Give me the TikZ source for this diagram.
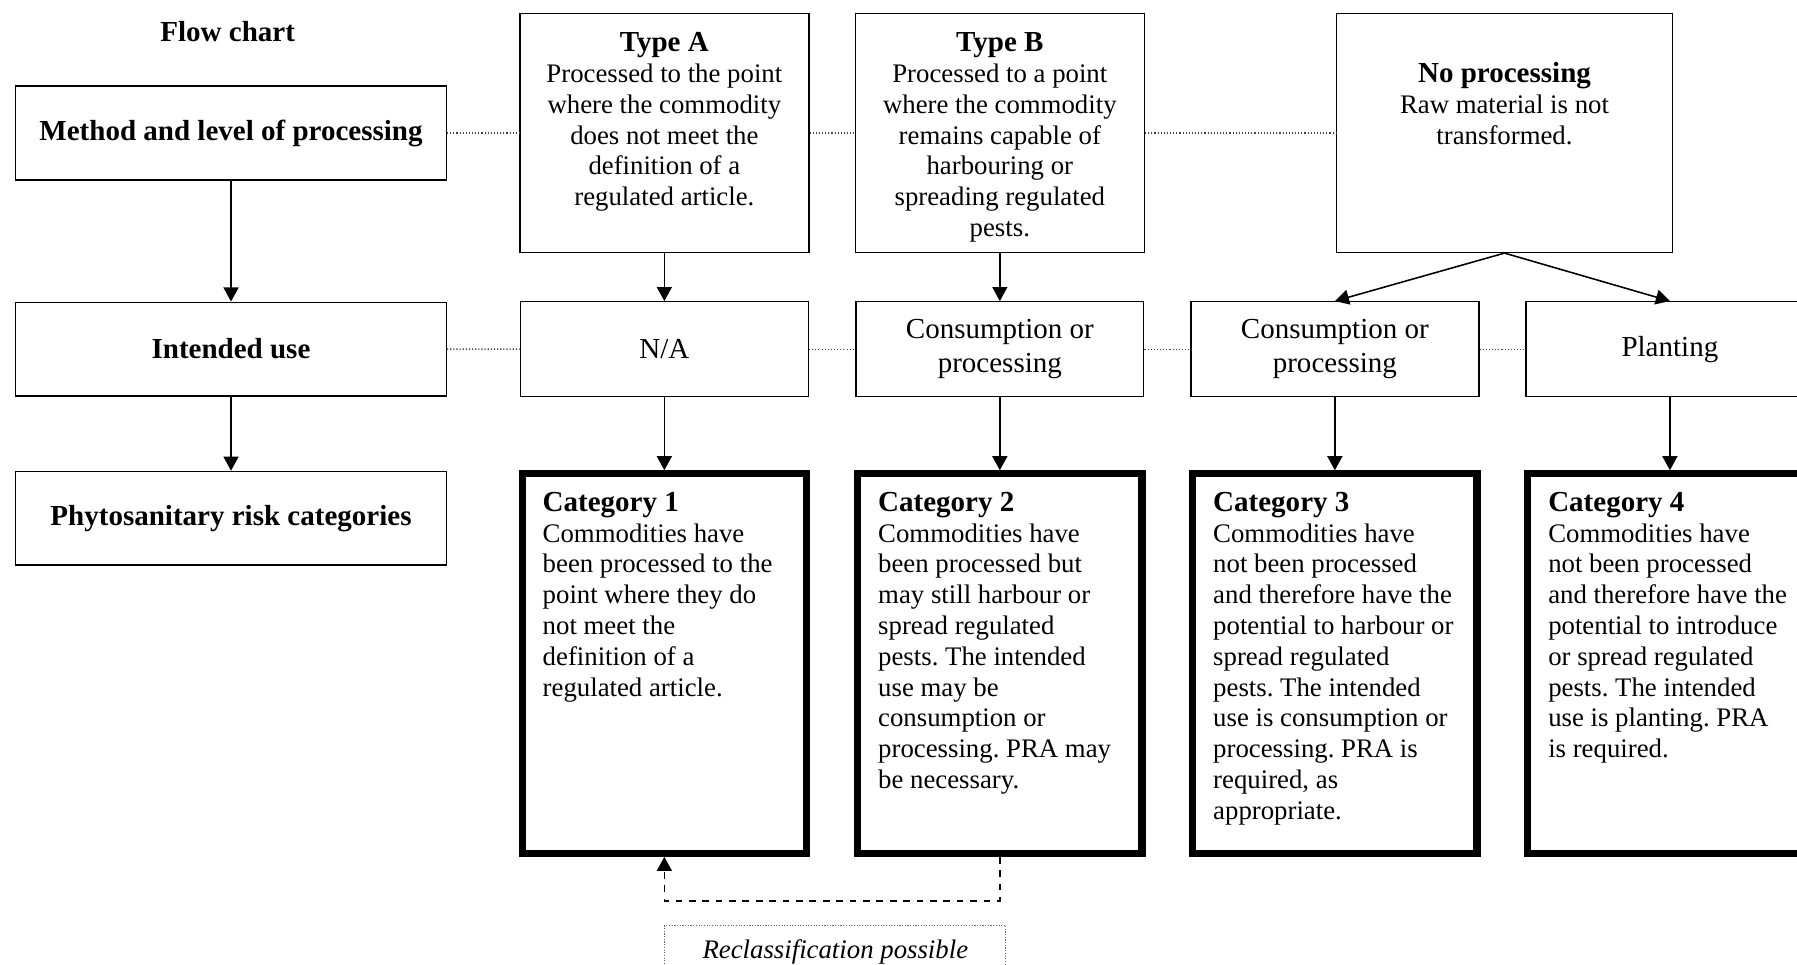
\documentclass[tikz,border=0pt]{standalone}
\usepackage{fontspec}
\setmainfont{Liberation Serif}
\usetikzlibrary{arrows.meta,positioning}
\frenchspacing
\newcommand{\hd}[1]{{\fontsize{13pt}{13.8pt}\selectfont\bfseries\strut #1}}
\tikzset{
  %standard arrow tip
    >={Triangle[length=6.3pt,width=6.7pt]},
  %style for the boxes on the left
  headbox/.style={
    rectangle,
    draw=black, line width=0.6pt,
    minimum width=193pt,
    minimum height=42pt,
    align=center,
    font={\fontsize{13pt}{15.2pt}\selectfont\bfseries}},
  %style for the intended use boxes
  usebox/.style={
    rectangle,
    draw=black, line width=0.6pt,
    minimum width=129pt,
    minimum height=42.5pt,
    align=center,
    font={\fontsize{13pt}{15.2pt}\selectfont}},
  %style for the processing boxes (text at the top)
  typebox/.style={
    rectangle,
    draw=black, line width=0.6pt,
    inner xsep=5pt, inner ysep=7.4pt,
    font={\fontsize{12pt}{13.8pt}\selectfont},
    execute at begin node={\begin{minipage}[t][92.2pt][t]{#1}\centering},
    execute at end node={\end{minipage}}},
  %style for the category boxes
  catbox/.style={
    rectangle,
    draw=black, line width=3.2pt,
    inner xsep=9.2pt, inner ysep=7.1pt,
    font={\fontsize{12pt}{13.8pt}\selectfont},
    execute at begin node={\begin{minipage}[t][155.8pt][t]{109pt}\raggedright},
    execute at end node={\end{minipage}}},
  %style for the note box
  notebox/.style={
    rectangle,
    draw=black!60, line width=0.4pt,
    dash pattern=on 0.5pt off 0.7pt,
    inner xsep=0pt, inner ysep=6.2pt,
    font={\fontsize{12pt}{13.8pt}\selectfont\itshape},
    execute at begin node={\begin{minipage}[t][60pt][t]{152.8pt}\centering},
    execute at end node={\end{minipage}}},
  %style for arrows
  myarrow/.style={
    ->,
    line width=0.7pt},
  %style for dotted links
  dotlink/.style={
    draw=black!75,
    line width=0.6pt,
    dash pattern=on 0.5pt off 0.9pt}
}

\begin{document}
\begin{tikzpicture}
\path[use as bounding box, clip] (-103.5pt,59.6pt) rectangle (701.6pt,-372.7pt);

%left column
\node[headbox] (method) at (0,0) {Method and level of processing};
\node[headbox, below=54.2pt of method] (intended) {Intended use};
\node[headbox, below=33.2pt of intended] (phyto) {Phytosanitary risk categories};
\node[above=16pt of method, xshift=-1.5pt, font={\fontsize{13pt}{15pt}\selectfont\bfseries}] (flowchart) {Flow chart};

%processing
\node[typebox=119.5pt, right=32.3pt of method] (typeA)
     {\hd{Type A}\\Processed to the point\\where the commodity\\does not meet the\\definition of a\\regulated article.};
\node[typebox=119.5pt, right=20.2pt of typeA] (typeB)
     {\hd{Type B}\\Processed to a point\\where the commodity\\remains capable of\\harbouring or\\spreading regulated\\pests.};
\node[typebox=140.5pt, right=85.5pt of typeB] (noproc)
     {\strut\\\hd{No processing}\\Raw material is not\\transformed.};

%intended use
\node[usebox, below=21.5pt of typeA] (na) {N/A};
\node[usebox, below=21.5pt of typeB] (consB) {Consumption or\\processing};
\node[usebox, right=20.5pt of consB] (consNo) {Consumption or\\processing};
\node[usebox, right=20.5pt of consNo] (planting) {Planting};

%categories
\node[catbox, below=32.7pt of na] (cat1)
     {\hd{Category 1}\\Commodities have\\been processed to the\\point where they do\\not meet the\\definition of a\\regulated article.};
\node[catbox, below=32.7pt of consB] (cat2)
     {\hd{Category 2}\\Commodities have\\been processed but\\may still harbour or\\spread regulated\\pests. The intended\\use may be\\consumption or\\processing. PRA may\\be necessary.};
\node[catbox, below=32.7pt of consNo] (cat3)
     {\hd{Category 3}\\Commodities have\\not been processed\\and therefore have the\\potential to harbour or\\spread regulated\\pests. The intended\\use is consumption or\\processing. PRA is\\required, as\\appropriate.};
\node[catbox, below=32.7pt of planting] (cat4)
     {\hd{Category 4}\\Commodities have\\not been processed\\and therefore have the\\potential to introduce\\or spread regulated\\pests. The intended\\use is planting. PRA\\is required.};

%note
\coordinate[below=30.5pt of cat1] (notecorner);
\node[notebox, anchor=north west] (reclass) at (notecorner) {Reclassification possible};

%dotted links
\draw[dotlink] (method) -- (typeA);
\draw[dotlink] (typeA) -- (typeB);
\draw[dotlink] (typeB) -- (noproc);
\draw[dotlink] (intended) -- (na);
\draw[dotlink] (na) -- (consB);
\draw[dotlink] (consB) -- (consNo);
\draw[dotlink] (consNo) -- (planting);

%arrows
\draw[myarrow] (method) -- (intended);
\draw[myarrow] (intended) -- (phyto);
\draw[myarrow] (typeA) -- (na);
\draw[myarrow] (typeB) -- (consB);
\draw[myarrow] (noproc.south) -- (consNo.north);
\draw[myarrow] (noproc.south) -- (planting.north);
\draw[myarrow] (na) -- (cat1);
\draw[myarrow] (consB) -- (cat2);
\draw[myarrow] (consNo) -- (cat3);
\draw[myarrow] (planting) -- (cat4);
\draw[myarrow, dashed] (cat2.south) -- ++(0,-19.7pt) -| (cat1.south);

\end{tikzpicture}
\end{document}
